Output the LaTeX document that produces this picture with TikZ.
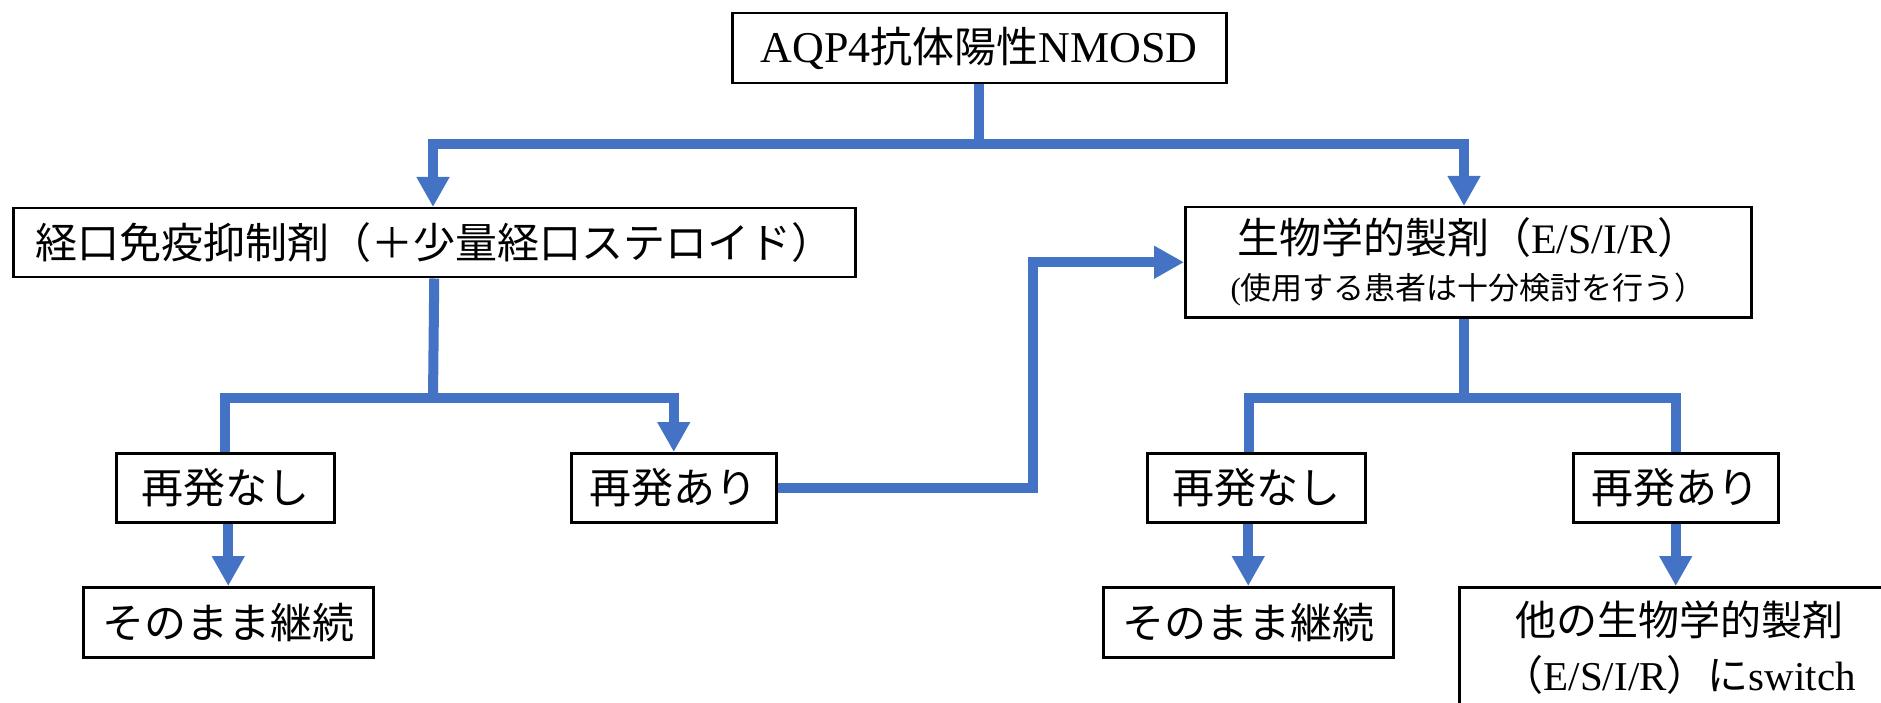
\documentclass[tikz,border=0pt]{standalone}
\usepackage{fontspec}
\setmainfont{Liberation Serif}
\newfontfamily\cjk{Noto Sans CJK JP}
\usetikzlibrary{arrows.meta}
\definecolor{flowblue}{HTML}{4472C4}
\tikzset{
  box/.style={draw=black, line width=2.5pt, inner sep=0pt, anchor=north west, align=center,
    font=\fontsize{42}{52}\selectfont},
  conn/.style={draw=flowblue, line width=10pt, line join=miter},
  tip/.style={-{Triangle[length=30pt,width=31pt]}}
}
\begin{document}
\begin{tikzpicture}[x=1pt,y=-1pt]
\clip (0,0) rectangle (1881,703);
\fill[white] (0,0) rectangle (1881,703);
% boxes
\node[box, minimum width=494pt, minimum height=70pt] (top) at (731,12) {{\fontsize{44}{52}\selectfont AQP4}{\cjk 抗体陽性}{\fontsize{44}{52}\selectfont NMOSD}};
\node[box, minimum width=842pt, minimum height=69pt] (L1) at (12,207) {\cjk 経口免疫抑制剤（＋少量経口ステロイド）};
\node[box, minimum width=566pt, minimum height=110pt] (R1) at (1184,206)
  {{\cjk 生物学的製剤（}E/S/I/R{\cjk ）}\\[-6pt]{\fontsize{31}{36}\selectfont (\cjk 使用する患者は十分検討を行う）}};
\node[box, minimum width=218pt, minimum height=69pt] (LN) at (115,452) {\cjk 再発なし};
\node[box, minimum width=205pt, minimum height=69pt] (LA) at (570,452) {\cjk 再発あり};
\node[box, minimum width=290pt, minimum height=70pt] (LC) at (82,586) {\cjk そのまま継続};
\node[box, minimum width=218pt, minimum height=69pt] (RN) at (1146,452) {\cjk 再発なし};
\node[box, minimum width=205pt, minimum height=69pt] (RA) at (1572,452) {\cjk 再発あり};
\node[box, minimum width=290pt, minimum height=70pt] (RC) at (1102,586) {\cjk そのまま継続};
\node[box, minimum width=440pt, minimum height=120pt, font=\fontsize{41}{55}\selectfont] (SW) at (1458,586)
  {{\cjk 他の生物学的製剤}\\{\cjk （}E/S/I/R{\cjk ）に}switch};
% junction coordinates
\coordinate (t1) at (433,144);
\coordinate (t2) at (1464,144);
\coordinate (j1) at (433,398);
\coordinate (j2) at (1464,398);
\coordinate (k) at (1033,0);
% connectors
\draw[conn] (top.south) -- (top.south |- t1);
\draw[conn, {Triangle[length=30pt,width=31pt]}-{Triangle[length=30pt,width=31pt]}]
  (t1 |- L1.north) -- (t1) -- (t2) -- (t2 |- R1.north);
\draw[conn] (L1.south) -- (j1);
\draw[conn, tip] (LN.north) -- (LN.north |- j1) -- (LA.north |- j1) -- (LA.north);
\draw[conn, tip] (LC.north |- LN.south) -- (LC.north);
\draw[conn, tip] (LA.east) -- (LA.east -| k) -- (k |- R1.west) -- (R1.west);
\draw[conn] (R1.south -| j2) -- (j2);
\draw[conn] ([xshift=-7pt]RN.north) -- ([xshift=-7pt]RN.north |- j2) -- (RA.north |- j2) -- (RA.north);
\draw[conn, tip] (RC.north |- RN.south) -- (RC.north);
\draw[conn, tip] (RA.south) -- (RA.south |- SW.north);
\end{tikzpicture}
\end{document}
